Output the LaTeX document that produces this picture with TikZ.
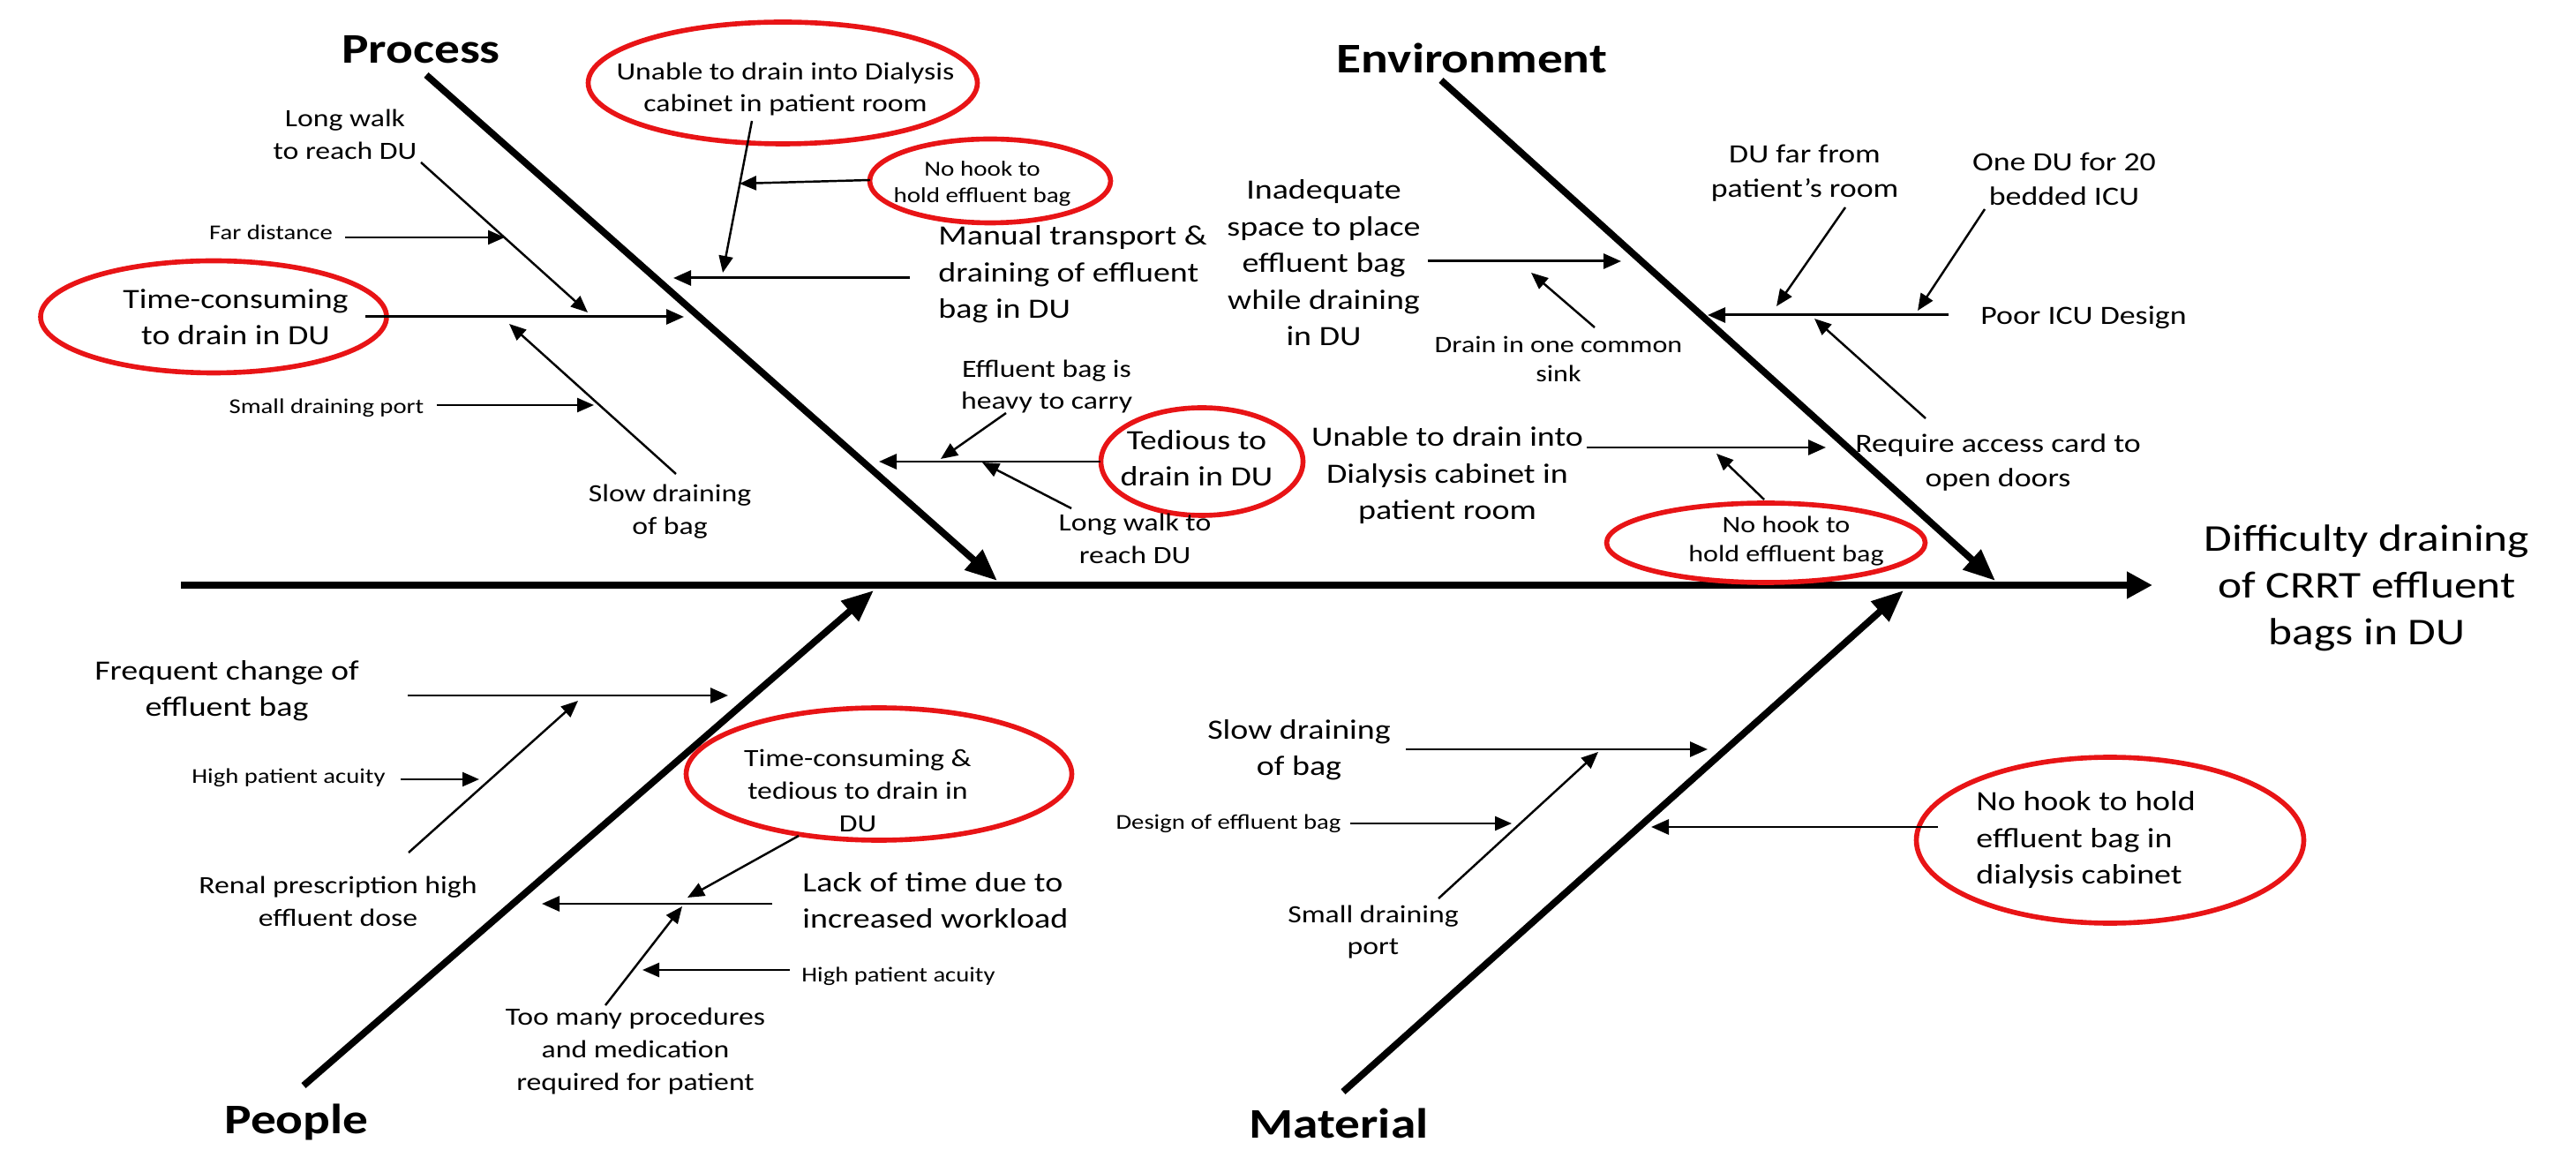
\documentclass[tikz,border=0pt]{standalone}
\usepackage{fontspec}
\setmainfont{Carlito}[FakeStretch=1.2]
\usepackage{xcolor}
\usepackage{tikz}
\usetikzlibrary{arrows.meta,shapes.geometric}
\definecolor{ringred}{RGB}{232,20,22}
\tikzset{
  fbw/.style={line width=2.4pt, -{Triangle[length=2.9mm,width=2.9mm]}},
  fbb/.style={line width=2.2pt, -{Triangle[length=3.6mm,width=2.9mm]}},
  fbc/.style={line width=0.85pt, -{Triangle[length=2mm,width=1.7mm]}},
  fbs/.style={line width=0.7pt, -{Triangle[length=1.9mm,width=1.6mm]}},
  fbr/.style={ellipse, draw=ringred, line width=1.6pt, inner sep=0pt},
  fbh/.style={font=\fontsize{13.6}{16}\selectfont\bfseries},
  fbbig/.style={align=center, font=\fontsize{12.2}{15.1}\selectfont},
  fbm/.style={align=center, font=\fontsize{9}{11.8}\selectfont},
  fbsm/.style={align=center, font=\fontsize{8}{10.5}\selectfont},
  fbg/.style={align=center, font=\fontsize{8.5}{11}\selectfont},
  fbd/.style={align=center, font=\fontsize{7.6}{9.6}\selectfont},
  fbk/.style={align=center, font=\fontsize{6.9}{8.5}\selectfont},
  fbt/.style={font=\fontsize{6.8}{9}\selectfont}
}
\begin{document}
\begin{tikzpicture}[x=1cm,y=-1cm]
  \useasboundingbox (0,0) rectangle (29.19,13.03);
  \coordinate (tail) at (2.05,6.63);
  \coordinate (effect) at (24.39,6.63);
  \draw[fbw] (tail) -- (effect);
  \node[fbbig] (prob) at (26.82,6.66) {Difficulty draining\\of CRRT effluent\\bags in DU};

  \coordinate (procA) at (4.83,0.85);
  \coordinate (procB) at (11.30,6.58);
  \coordinate (envA) at (16.33,0.91);
  \coordinate (envB) at (22.61,6.58);
  \coordinate (peoA) at (3.44,12.30);
  \coordinate (peoB) at (9.90,6.69);
  \coordinate (matA) at (15.22,12.37);
  \coordinate (matB) at (21.57,6.69);
  \draw[fbb] (procA) -- (procB);
  \draw[fbb] (envA) -- (envB);
  \draw[fbb] (peoA) -- (peoB);
  \draw[fbb] (matA) -- (matB);
  \node[fbh] (proc) at (4.77,0.56) {Process};
  \node[fbh] (env) at (16.68,0.66) {Environment};
  \node[fbh] (peo) at (3.36,12.71) {People};
  \node[fbh] (mat) at (15.17,12.73) {Material};

  \node[fbsm] (walk) at (3.91,1.52) {Long walk\\to reach DU};
  \coordinate (walkA) at (4.77,1.84);
  \coordinate (walkB) at (6.66,3.54);
  \draw[fbs] (walkA) -- (walkB);
  \node[fbt] (far) at (3.07,2.63) {Far distance};
  \coordinate (farA) at (3.91,2.69);
  \coordinate (farB) at (5.72,2.69);
  \draw[fbs] (farA) -- (farB);
  \node[fbm] (tcp) at (2.67,3.59) {Time-consuming\\to drain in DU};
  \node[fbr, minimum width=3.92cm, minimum height=1.27cm] (tcpR) at (2.42,3.59) {};
  \coordinate (tcpA) at (4.14,3.59);
  \coordinate (tcpB) at (7.75,3.59);
  \draw[fbc] (tcpA) -- (tcpB);
  \node[fbt] (port) at (3.70,4.62) {Small draining port};
  \coordinate (portA) at (4.95,4.59);
  \coordinate (portB) at (6.73,4.59);
  \draw[fbs] (portA) -- (portB);
  \node[fbsm] (slow) at (7.59,5.80) {Slow draining\\of bag};
  \coordinate (slowA) at (7.66,5.37);
  \coordinate (slowB) at (5.77,3.67);
  \draw[fbs] (slowA) -- (slowB);

  \node[fbsm] (cab) at (8.90,1.01) {Unable to drain into Dialysis\\cabinet in patient room};
  \node[fbr, minimum width=4.41cm, minimum height=1.38cm] (cabR) at (8.87,0.94) {};
  \coordinate (cabA) at (8.52,1.37);
  \coordinate (cabB) at (8.19,3.09);
  \draw[fbs] (cabA) -- (cabB);
  \node[fbk] (hook) at (11.13,2.08) {No hook to\\hold effluent bag};
  \node[fbr, minimum width=2.73cm, minimum height=0.95cm] (hookR) at (11.22,2.05) {};
  \coordinate (hookA) at (9.86,2.04);
  \coordinate (hookB) at (8.38,2.08);
  \draw[fbs] (hookA) -- (hookB);
  \node[fbm, align=left, anchor=west] (man) at (10.51,3.11) {Manual transport \&\\draining of effluent\\bag in DU};
  \coordinate (manA) at (10.31,3.15);
  \coordinate (manB) at (7.63,3.15);
  \draw[fbc] (manA) -- (manB);
  \node[fbsm] (heavy) at (11.86,4.38) {Effluent bag is\\heavy to carry};
  \coordinate (heavyA) at (11.40,4.68);
  \coordinate (heavyB) at (10.66,5.20);
  \draw[fbs] (heavyA) -- (heavyB);
  \node[fbm] (ted) at (13.56,5.19) {Tedious to\\drain in DU};
  \node[fbr, minimum width=2.29cm, minimum height=1.22cm] (tedR) at (13.62,5.23) {};
  \coordinate (tedA) at (12.47,5.23);
  \coordinate (tedB) at (9.96,5.23);
  \draw[fbc] (tedA) -- (tedB);
  \node[fbsm] (walk2) at (12.86,6.10) {Long walk to\\reach DU};
  \coordinate (walk2A) at (12.14,5.76);
  \coordinate (walk2B) at (11.13,5.24);
  \draw[fbs] (walk2A) -- (walk2B);

  \node[fbm] (space) at (15.00,2.98) {Inadequate\\space to place\\effluent bag\\while draining\\in DU};
  \coordinate (spaceA) at (16.18,2.96);
  \coordinate (spaceB) at (18.37,2.96);
  \draw[fbc] (spaceA) -- (spaceB);
  \node[fbd] (sink) at (17.66,4.07) {Drain in one common\\sink};
  \coordinate (sinkA) at (18.07,3.71);
  \coordinate (sinkB) at (17.35,3.09);
  \draw[fbs] (sinkA) -- (sinkB);
  \node[fbm] (cab2) at (16.40,5.39) {Unable to drain into\\Dialysis cabinet in\\patient room};
  \coordinate (cab2A) at (17.98,5.07);
  \coordinate (cab2B) at (20.69,5.07);
  \draw[fbc] (cab2A) -- (cab2B);
  \node[fbd] (hook2) at (20.24,6.13) {No hook to\\hold effluent bag};
  \node[fbr, minimum width=3.61cm, minimum height=0.90cm] (hook2R) at (20.01,6.15) {};
  \coordinate (hook2A) at (19.99,5.66);
  \coordinate (hook2B) at (19.45,5.14);
  \draw[fbs] (hook2A) -- (hook2B);
  \node[fbg] (icu) at (23.61,3.60) {Poor ICU Design};
  \coordinate (icuA) at (22.08,3.57);
  \coordinate (icuB) at (19.35,3.57);
  \draw[fbc] (icuA) -- (icuB);
  \node[fbg] (farroom) at (20.45,1.96) {DU far from\\patient’s room};
  \coordinate (farroomA) at (20.91,2.35);
  \coordinate (farroomB) at (20.13,3.47);
  \draw[fbs] (farroomA) -- (farroomB);
  \node[fbg] (oneDU) at (23.39,2.03) {One DU for 20\\bedded ICU};
  \coordinate (oneDUA) at (22.49,2.37);
  \coordinate (oneDUB) at (21.73,3.52);
  \draw[fbs] (oneDUA) -- (oneDUB);
  \node[fbg] (card) at (22.64,5.24) {Require access card to\\open doors};
  \coordinate (cardA) at (21.82,4.74);
  \coordinate (cardB) at (20.56,3.61);
  \draw[fbs] (cardA) -- (cardB);

  \node[fbm] (freq) at (2.57,7.83) {Frequent change of\\effluent bag};
  \coordinate (freqA) at (4.62,7.88);
  \coordinate (freqB) at (8.25,7.88);
  \draw[fbc] (freqA) -- (freqB);
  \node[fbt] (acu) at (3.27,8.81) {High patient acuity};
  \coordinate (acuA) at (4.54,8.83);
  \coordinate (acuB) at (5.43,8.83);
  \draw[fbs] (acuA) -- (acuB);
  \node[fbsm] (renal) at (3.83,10.21) {Renal prescription high\\effluent dose};
  \coordinate (renalA) at (4.63,9.66);
  \coordinate (renalB) at (6.55,7.94);
  \draw[fbs] (renalA) -- (renalB);
  \node[fbsm] (tcq) at (9.72,8.96) {Time-consuming \&\\tedious to drain in\\DU};
  \node[fbr, minimum width=4.37cm, minimum height=1.50cm] (tcqR) at (9.96,8.77) {};
  \coordinate (tcqA) at (9.05,9.47);
  \coordinate (tcqB) at (7.79,10.17);
  \draw[fbs] (tcqA) -- (tcqB);
  \node[fbm, align=left, anchor=west] (lack) at (8.97,10.20) {Lack of time due to\\increased workload};
  \coordinate (lackA) at (8.75,10.24);
  \coordinate (lackB) at (6.14,10.24);
  \draw[fbc] (lackA) -- (lackB);
  \node[fbt] (acu2) at (10.18,11.06) {High patient acuity};
  \coordinate (acu2A) at (8.95,10.99);
  \coordinate (acu2B) at (7.28,10.99);
  \draw[fbs] (acu2A) -- (acu2B);
  \node[fbsm] (meds) at (7.20,11.91) {Too many procedures\\and medication\\required for patient};
  \coordinate (medsA) at (6.86,11.39);
  \coordinate (medsB) at (7.73,10.27);
  \draw[fbs] (medsA) -- (medsB);

  \node[fbm] (slow2) at (14.72,8.50) {Slow draining\\of bag};
  \coordinate (slow2A) at (15.93,8.49);
  \coordinate (slow2B) at (19.35,8.49);
  \draw[fbc] (slow2A) -- (slow2B);
  \node[fbt] (design) at (13.92,9.33) {Design of effluent bag};
  \coordinate (designA) at (15.30,9.33);
  \coordinate (designB) at (17.13,9.33);
  \draw[fbs] (designA) -- (designB);
  \node[fbsm] (port2) at (15.56,10.56) {Small draining\\port};
  \coordinate (port2A) at (16.30,10.18);
  \coordinate (port2B) at (18.11,8.52);
  \draw[fbs] (port2A) -- (port2B);
  \node[fbm, align=left, anchor=west] (hook3) at (22.27,9.52) {No hook to hold\\effluent bag in\\dialysis cabinet};
  \node[fbr, minimum width=4.39cm, minimum height=1.88cm] (hook3R) at (23.91,9.52) {};
  \coordinate (hook3A) at (21.96,9.37);
  \coordinate (hook3B) at (18.71,9.37);
  \draw[fbc] (hook3A) -- (hook3B);
\end{tikzpicture}
\end{document}
